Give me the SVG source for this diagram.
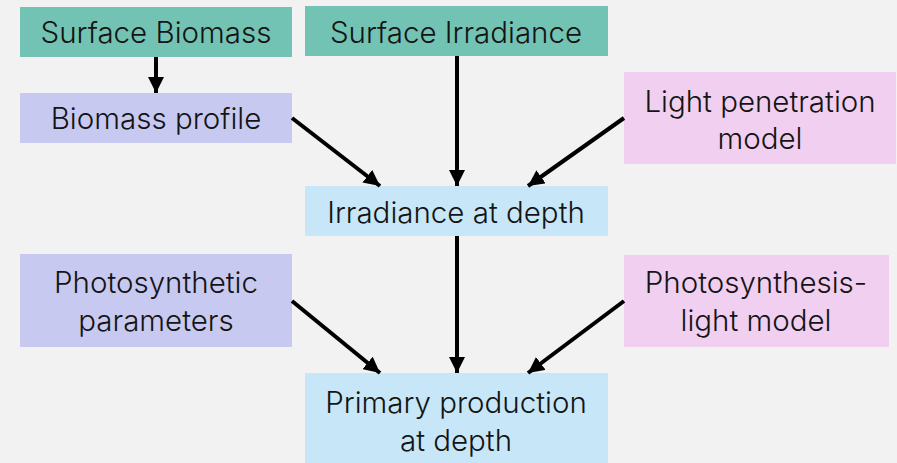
<svg xmlns="http://www.w3.org/2000/svg" width="897" height="463" viewBox="0 0 897 463">
<style>
.t{font-family:"Inter","Liberation Sans",Arial,sans-serif;font-weight:300;font-size:29.5px;fill:#141414;text-anchor:middle;font-variant-ligatures:none}
.g{fill:#72c3b3}.p{fill:#c8c9f1}.m{fill:#f0cff0}.b{fill:#c7e7f9}
.c{stroke:#000;stroke-width:4;fill:none;marker-end:url(#ah)}
</style>
<defs>
<marker id="ah" viewBox="0 0 10 10" refX="10" refY="5" markerWidth="4" markerHeight="4" orient="auto" markerUnits="strokeWidth">
<path d="M0,0 L10,5 L0,10 z" fill="#000"/>
</marker>
</defs>
<rect width="897" height="463" fill="#f2f2f2"/>
<g id="surface-biomass"><rect class="g" x="20" y="7" width="272" height="50"/><text class="t" x="156" y="43">Surface Biomass</text></g>
<g id="surface-irradiance"><rect class="g" x="305" y="6" width="303" height="50"/><text class="t" x="456" y="43">Surface Irradiance</text></g>
<g id="biomass-profile"><rect class="p" x="20" y="93" width="272" height="50"/><text class="t" x="156" y="129">Biomass profile</text></g>
<g id="light-penetration"><rect class="m" x="624" y="72" width="272" height="92"/><text class="t" x="760" y="112">Light penetration</text><text class="t" x="760" y="149">model</text></g>
<g id="irradiance-depth"><rect class="b" x="305" y="186" width="303" height="50"/><text class="t" x="456" y="223">Irradiance at depth</text></g>
<g id="photo-params"><rect class="p" x="20" y="254" width="272" height="93"/><text class="t" x="156" y="293">Photosynthetic</text><text class="t" x="156" y="331">parameters</text></g>
<g id="photo-light"><rect class="m" x="624" y="255" width="265" height="92"/><text class="t" x="756" y="293">Photosynthesis-</text><text class="t" x="756" y="331">light model</text></g>
<g id="primary-production"><rect class="b" x="305" y="373" width="303" height="90"/><text class="t" x="456" y="413">Primary production</text><text class="t" x="456" y="451">at depth</text></g>
<g id="connectors">
<line class="c" x1="156" y1="57" x2="156" y2="93"/>
<line class="c" x1="457" y1="56" x2="457" y2="186"/>
<line class="c" x1="292" y1="118" x2="380" y2="186"/>
<line class="c" x1="624" y1="118" x2="528" y2="186"/>
<line class="c" x1="457" y1="236" x2="457" y2="373"/>
<line class="c" x1="292" y1="301" x2="380" y2="373"/>
<line class="c" x1="624" y1="301" x2="528" y2="373"/>
</g>
</svg>
